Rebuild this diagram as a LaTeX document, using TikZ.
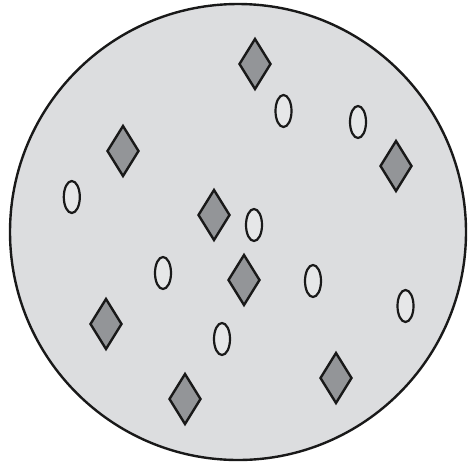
\documentclass[tikz,border=0pt]{standalone}
\definecolor{bgfill}{HTML}{DCDDDF}
\definecolor{dfill}{HTML}{939598}
\definecolor{efill}{HTML}{E6E7E8}
\begin{document}
\begin{tikzpicture}[x=1pt,y=-1pt,
  dia/.style={fill=dfill,draw=black!90,line width=2.4pt,line join=miter},
  ell/.style={fill=efill,draw=black!90,line width=2.2pt}]
\useasboundingbox (0,0) rectangle (468,464);
\draw[fill=bgfill,draw=black!90,line width=2.4pt] (238,232) circle[radius=228];
\foreach \x/\y in {255/64, 123/151, 396/166, 214/215, 244/280, 106/324, 336/378, 185/399}
  \draw[dia] (\x,\y-25) -- (\x+15.5,\y) -- (\x,\y+25) -- (\x-15.5,\y) -- cycle;
\foreach \x/\y in {283.5/111, 358/122, 71.8/197, 254/225, 163/273, 313/281, 405.5/306, 222/339}
  \draw[ell] (\x,\y) ellipse[x radius=8, y radius=16];
\end{tikzpicture}
\end{document}
